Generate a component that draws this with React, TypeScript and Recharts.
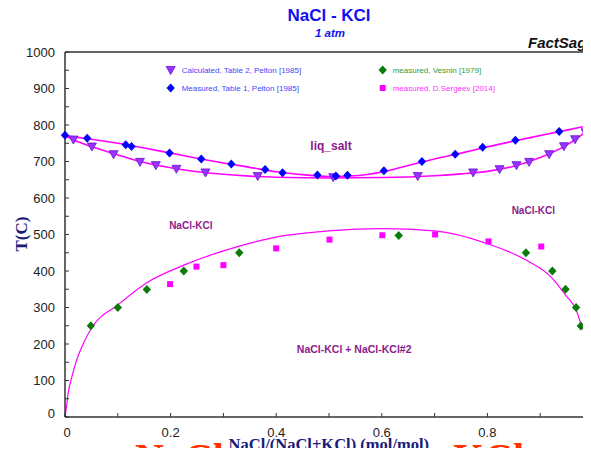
import React from "react";
import { ComposedChart, Line, Scatter, XAxis, YAxis } from "recharts";

// composition axis (NaCl mole fraction) and temperature axis
const X_TICKS = [0, 0.1, 0.2, 0.3, 0.4, 0.5, 0.6, 0.7, 0.8, 0.9, 1];
const X_LABELS = ["0", "0.2", "0.4", "0.6", "0.8"];
const Y_TICKS = [
  0, 50, 100, 150, 200, 250, 300, 350, 400, 450, 500, 550, 600, 650, 700, 750,
  800, 850, 900, 950, 1000,
];
const Y_LABELS = [0, 100, 200, 300, 400, 500, 600, 700, 800, 900, 1000];

// calculated phase boundaries [x, T]
const liquidus: [number, number][] = [
  [0, 771], [0.05, 761], [0.1, 750], [0.15, 737], [0.2, 723], [0.25, 709],
  [0.3, 696], [0.35, 684], [0.4, 672], [0.45, 664], [0.5, 659], [0.55, 661],
  [0.6, 671], [0.65, 689], [0.7, 707], [0.75, 723], [0.8, 740], [0.85, 756],
  [0.9, 771], [0.95, 786], [1, 801],
];
const solidus: [number, number][] = [
  [0, 771], [0.02, 757], [0.05, 741], [0.1, 718], [0.15, 697], [0.2, 683],
  [0.25, 672], [0.3, 665], [0.35, 660], [0.4, 657], [0.5, 655], [0.6, 656],
  [0.7, 661], [0.75, 666], [0.8, 673], [0.85, 687], [0.9, 711], [0.95, 745],
  [0.975, 769], [1, 801],
];
const gap: [number, number][] = [
  [0, 0], [0.003, 30], [0.006, 65], [0.013, 110], [0.022, 156], [0.035, 202],
  [0.05, 243], [0.1, 307], [0.155, 368], [0.225, 416], [0.33, 468], [0.4, 493],
  [0.5, 510], [0.6, 516], [0.7, 510], [0.8, 475], [0.873, 430], [0.923, 380],
  [0.948, 334], [0.968, 293], [0.977, 256], [0.987, 211], [0.994, 138],
  [0.998, 80], [1, 0],
];

// experimental / tabulated points [x, T]
const peltonCalc: [number, number][] = [
  [0.016, 760], [0.051, 741], [0.092, 720], [0.142, 699], [0.172, 690],
  [0.211, 680], [0.266, 670], [0.365, 660], [0.508, 657], [0.668, 660],
  [0.773, 670], [0.823, 679], [0.855, 690], [0.879, 699], [0.917, 720],
  [0.945, 742], [0.966, 761], [0.986, 780],
];
const peltonMeas: [number, number][] = [
  [0, 772], [0.042, 764], [0.115, 746], [0.126, 741], [0.198, 723],
  [0.258, 707], [0.315, 693], [0.379, 678], [0.412, 669], [0.478, 663],
  [0.513, 660], [0.535, 662], [0.604, 675], [0.676, 700], [0.739, 720],
  [0.791, 739], [0.853, 758], [0.936, 782],
];
const vesnin: [number, number][] = [
  [0.049, 250], [0.1, 300], [0.155, 349], [0.225, 400], [0.33, 450],
  [0.632, 497], [0.873, 450], [0.923, 400], [0.948, 350], [0.968, 300],
  [0.977, 249],
];
const sergeev: [number, number][] = [
  [0.199, 364], [0.249, 412], [0.3, 416], [0.4, 462], [0.501, 486],
  [0.601, 498], [0.701, 500], [0.802, 481], [0.902, 467],
];

const toPts = (arr: [number, number][]) => arr.map(([x, t]) => ({ x, t }));

const AXIS = "#333";
const TICK_FONT = "'Liberation Sans', Arial, sans-serif";

function Tri({ cx, cy }: any) {
  return (
    <polygon
      points={`${cx - 4.5},${cy - 3.5} ${cx + 4.5},${cy - 3.5} ${cx},${cy + 4.5}`}
      fill="#9933ff"
      stroke="#6a10d0"
      strokeWidth={0.8}
    />
  );
}

function Diamond({ cx, cy, fill }: any) {
  return (
    <polygon
      points={`${cx},${cy - 4.5} ${cx + 4.2},${cy} ${cx},${cy + 4.5} ${cx - 4.2},${cy}`}
      fill={fill}
    />
  );
}

function Square({ cx, cy }: any) {
  return <rect x={cx - 3} y={cy - 3} width={6} height={6} fill="#ff00ff" />;
}

function BottomTick({ x, y, payload }: any) {
  const v = payload.value;
  const label = v === 0 ? "0" : v.toFixed(1);
  return (
    <g>
      <line x1={x} y1={y} x2={x} y2={y - 4} stroke={AXIS} />
      {X_LABELS.includes(label) && (
        <text
          x={x + (v === 0 ? 2 : 0)}
          y={y + 19.5}
          textAnchor="middle"
          fontSize={13}
          fontFamily={TICK_FONT}
          fill="#222"
        >
          {label}
        </text>
      )}
    </g>
  );
}

function TopTick({ x, y }: any) {
  return <line x1={x} y1={y} x2={x} y2={y + 4} stroke={AXIS} />;
}

function LeftTick({ x, y, payload }: any) {
  const v = payload.value;
  return (
    <g>
      <line x1={x} y1={y} x2={x + 4} y2={y} stroke={AXIS} />
      {Y_LABELS.includes(v) && (
        <text
          x={x - 10}
          y={y + (v === 0 ? 0.5 : 4.5)}
          textAnchor="end"
          fontSize={13}
          fontFamily={TICK_FONT}
          fill="#222"
        >
          {v}
        </text>
      )}
    </g>
  );
}

function RightTick({ x, y }: any) {
  return <line x1={x} y1={y} x2={x - 4} y2={y} stroke={AXIS} />;
}

export default function App() {
  const sans = "'Liberation Sans', Arial, sans-serif";
  const serif = "'Liberation Serif', 'Times New Roman', serif";
  const purple = "#8b1a8b";
  return (
    <div
      style={{
        position: "relative",
        width: 591,
        height: 456,
        overflow: "hidden",
        margin: -8,
        background: "#fff",
      }}
    >
      <ComposedChart
        width={620}
        height={456}
        margin={{ top: 42, right: 7, bottom: 0, left: 0 }}
      >
        <XAxis
          dataKey="x"
          type="number"
          domain={[0, 1]}
          ticks={X_TICKS}
          interval={0}
          tickSize={0}
          tickMargin={0}
          height={39}
          axisLine={{ stroke: AXIS, strokeWidth: 1.5 }}
          tick={<BottomTick />}
        />
        <XAxis
          xAxisId="top"
          orientation="top"
          type="number"
          domain={[0, 1]}
          ticks={X_TICKS}
          interval={0}
          tickSize={0}
          tickMargin={0}
          height={10}
          axisLine={{ stroke: AXIS, strokeWidth: 1.5 }}
          tick={<TopTick />}
        />
        <YAxis
          dataKey="t"
          type="number"
          domain={[0, 1000]}
          ticks={Y_TICKS}
          interval={0}
          tickSize={0}
          tickMargin={0}
          width={65}
          axisLine={{ stroke: AXIS, strokeWidth: 1.5 }}
          tick={<LeftTick />}
        />
        <YAxis
          yAxisId="right"
          orientation="right"
          type="number"
          domain={[0, 1000]}
          ticks={Y_TICKS}
          interval={0}
          tickSize={0}
          tickMargin={0}
          width={20}
          axisLine={{ stroke: AXIS, strokeWidth: 1.5 }}
          tick={<RightTick />}
        />
        <Line
          data={toPts(gap)}
          dataKey="t"
          type="monotone"
          stroke="#ff00ff"
          strokeWidth={1.2}
          dot={false}
          isAnimationActive={false}
        />
        <Line
          data={toPts(solidus)}
          dataKey="t"
          type="monotone"
          stroke="#ff00ff"
          strokeWidth={1.6}
          dot={false}
          isAnimationActive={false}
        />
        <Line
          data={toPts(liquidus)}
          dataKey="t"
          type="monotone"
          stroke="#ff00ff"
          strokeWidth={1.6}
          dot={false}
          isAnimationActive={false}
        />
        <Scatter
          data={toPts(sergeev)}
          dataKey="t"
          shape={(p: any) => <Square cx={p.cx} cy={p.cy} />}
          isAnimationActive={false}
        />
        <Scatter
          data={toPts(vesnin)}
          dataKey="t"
          shape={(p: any) => <Diamond cx={p.cx} cy={p.cy} fill="#0a7a0a" />}
          isAnimationActive={false}
        />
        <Scatter
          data={toPts(peltonCalc)}
          dataKey="t"
          shape={(p: any) => <Tri cx={p.cx} cy={p.cy} />}
          isAnimationActive={false}
        />
        <Scatter
          data={toPts(peltonMeas)}
          dataKey="t"
          shape={(p: any) => <Diamond cx={p.cx} cy={p.cy} fill="#0000ff" />}
          isAnimationActive={false}
        />
      </ComposedChart>

      <svg
        width={591}
        height={456}
        style={{ position: "absolute", left: 0, top: 0, pointerEvents: "none" }}
      >
        <text x={329} y={21} textAnchor="middle" fontSize={17} fontWeight="bold" fontFamily={sans} fill="#1010f0">
          NaCl - KCl
        </text>
        <text x={330} y={37} textAnchor="middle" fontSize={11.5} fontWeight="bold" fontStyle="italic" fontFamily={sans} fill="#1010f0">
          1 atm
        </text>
        <text x={528} y={48} fontSize={15} fontWeight="bold" fontStyle="italic" fontFamily={sans} fill="#111">
          FactSage
        </text>

        {/* legend */}
        <Tri cx={170.7} cy={70} />
        <text x={181.7} y={73} fontSize={8} fontFamily={sans} fill="#4444ff">
          Calculated, Table 2, Pelton [1985]
        </text>
        <Diamond cx={170.7} cy={88} fill="#0000ff" />
        <text x={181.7} y={91} fontSize={8} fontFamily={sans} fill="#4444ff">
          Measured, Table 1, Pelton [1985]
        </text>
        <Diamond cx={382.7} cy={70} fill="#0a7a0a" />
        <text x={392.7} y={73} fontSize={8} fontFamily={sans} fill="#339933">
          measured, Vesnin [1979]
        </text>
        <Square cx={382.7} cy={88} />
        <text x={392.7} y={91} fontSize={8} fontFamily={sans} fill="#ff33ff">
          measured, D.Sergeev [2014]
        </text>

        {/* phase field labels */}
        <text x={331} y={150} textAnchor="middle" fontSize={12} fontWeight="bold" fontFamily={sans} fill={purple}>
          liq_salt
        </text>
        <text x={190.8} y={229.3} textAnchor="middle" fontSize={10} fontWeight="bold" fontFamily={sans} fill={purple}>
          NaCl-KCl
        </text>
        <text x={533.3} y={213.6} textAnchor="middle" fontSize={10} fontWeight="bold" fontFamily={sans} fill={purple}>
          NaCl-KCl
        </text>
        <text x={354.2} y={353} textAnchor="middle" fontSize={10.5} fontWeight="bold" fontFamily={sans} fill={purple}>
          NaCl-KCl + NaCl-KCl#2
        </text>

        {/* axis titles; the big red end-member names sit below the window edge */}
        <text
          x={21.7}
          y={234}
          transform="rotate(-90 21.7 234)"
          textAnchor="middle"
          dominantBaseline="central"
          fontSize={17}
          fontWeight="bold"
          fontFamily={serif}
          fill="#1a1a7a"
        >
          T(C)
        </text>
        <text x={135} y={471} fontSize={40} fontWeight="bold" fontFamily={serif} fill="#ff3300">
          NaCl
        </text>
        <text x={453} y={471} fontSize={40} fontWeight="bold" fontFamily={serif} fill="#ff3300">
          KCl
        </text>
        <text x={328.8} y={450.3} textAnchor="middle" fontSize={16.5} fontWeight="bold" fontFamily={serif} fill="#1a1a7a">
          NaCl/(NaCl+KCl) (mol/mol)
        </text>
      </svg>
    </div>
  );
}
